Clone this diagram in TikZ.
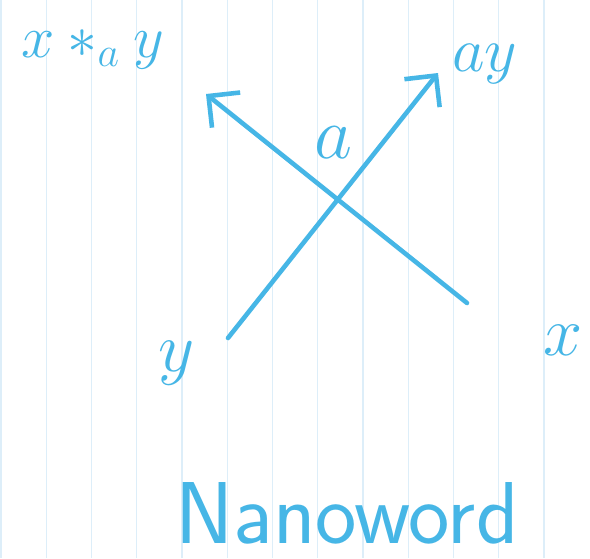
\RequirePackage{fix-cm}
\documentclass[tikz,border=0pt]{standalone}
\usepackage{amsmath}
\usepackage{tikz}
\usetikzlibrary{arrows.meta,positioning}
\definecolor{inkblue}{RGB}{70,182,230}
\definecolor{ruleblue}{RGB}{221,238,249}

\begin{document}
\begin{tikzpicture}[>={Straight Barb[length=4.5mm,width=9mm]},
  ink/.style={draw=inkblue,line width=2.6pt,line cap=round,line join=round},
  lbl/.style={text=inkblue,inner sep=0pt}]
\useasboundingbox[fill=white] (0,0) rectangle (11.8,11.16);
% ruling
\foreach \i in {0,...,12}
  \draw[ruleblue,line width=0.6pt] (0.02+0.905*\i,0) -- (0.02+0.905*\i,11.16);
% strand ends
\coordinate (yin) at (4.56,4.40);
\coordinate (xin) at (9.34,5.10);
\coordinate (ayout) at (8.76,9.70);
\coordinate (xayout) at (4.12,9.28);
% strands
\draw[ink,->] (yin) -- (ayout);
\draw[ink,->] (xin) -- (xayout);
% labels
\node[lbl,anchor=base west,font=\fontsize{34}{40}\selectfont] (xay) at (0.42,10.0) {$x*_a y$};
\node[lbl,anchor=base west,font=\fontsize{36}{40}\selectfont] (ay) at (9.04,9.72) {$ay$};
\node[lbl,font=\fontsize{42}{48}\selectfont] (acr) at (6.66,8.30) {$a$};
\node[lbl,font=\fontsize{40}{48}\selectfont] (ylab) at (3.54,3.90) {$y$};
\node[lbl,font=\fontsize{40}{48}\selectfont] (xlab) at (11.26,4.36) {$x$};
\node[lbl,anchor=base,font=\sffamily\fontsize{50}{56}\selectfont] (title) at (6.94,0.30) {Nanoword};
\end{tikzpicture}
\end{document}
